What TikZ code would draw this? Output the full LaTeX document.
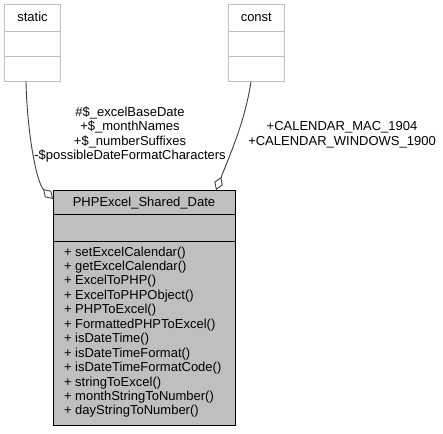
\documentclass[tikz,border=0pt]{standalone}
\usepackage{fontspec}
\setmainfont{Liberation Sans}
\usetikzlibrary{arrows.meta}
\definecolor{boxgray}{HTML}{BFBFBF}
\definecolor{linegray}{HTML}{404040}
\tikzset{
  lightbox/.style={draw=boxgray, fill=white, line width=1pt, inner sep=0pt, outer sep=0pt, minimum width=56pt},
  mainbox/.style={draw=black, fill=boxgray, line width=1pt, inner sep=0pt, outer sep=0pt, minimum width=182pt},
  txt/.style={font=\fontsize{13}{14.45}\selectfont, inner sep=0pt, outer sep=0pt, anchor=base},
  mtxt/.style={txt, anchor=base west},
  conn/.style={draw=linegray, line width=0.9pt, -{Diamond[open, length=14pt, width=9pt]}}
}
\begin{document}
\begin{tikzpicture}[x=1pt,y=-1pt]
\useasboundingbox (0,0) rectangle (443,433);
% static box
\node[lightbox, minimum height=26.7pt] (sthead) at (32.5,18.35) {};
\node[lightbox, minimum height=25pt] (stattr) at (32.5,44.2) {};
\node[lightbox, minimum height=25pt] (stops) at (32.5,69.2) {};
\node[txt] (stname) at (32.5,21.7) {static};
% const box
\node[lightbox, minimum height=26.7pt] (cohead) at (256.3,18.35) {};
\node[lightbox, minimum height=25pt] (coattr) at (256.3,44.2) {};
\node[lightbox, minimum height=25pt] (coops) at (256.3,69.2) {};
\node[txt] (coname) at (256.3,21.7) {const};
% main box
\node[mainbox, minimum height=24pt] (mhead) at (144,202) {};
\node[mainbox, minimum height=27pt] (mattr) at (144,227.5) {};
\node[mainbox, minimum height=184pt] (mops) at (144,333) {};
\node[txt] (mname) at (144,206) {PHPExcel\_Shared\_Date};
\foreach \t [count=\i from 0] in {setExcelCalendar(), getExcelCalendar(), ExcelToPHP(), ExcelToPHPObject(), PHPToExcel(), FormattedPHPToExcel(), isDateTime(), isDateTimeFormat(), isDateTimeFormatCode(), stringToExcel(), monthStringToNumber(), dayStringToNumber()}
  \node[mtxt] (m\i) at (64,256+14.45*\i) {+ \t};
% connectors
\coordinate (stout) at (26,81.7);
\coordinate (stin) at (53,199);
\coordinate (coout) at (251,81.7);
\coordinate (coin) at (216,190);
\draw[conn] (stout) .. controls (27,130) and (36,182) .. (stin);
\draw[conn] (coout) .. controls (245,120) and (232,150) .. (coin);
% labels
\node[txt] (l1) at (130,116.5) {\#\$\_excelBaseDate};
\node[txt] (l2) at (130,130.8) {+\$\_monthNames};
\node[txt] (l3) at (130,145.1) {+\$\_numberSuffixes};
\node[txt] (l4) at (130,159.4) {-\$possibleDateFormatCharacters};
\node[txt] (c1) at (342,130.8) {+CALENDAR\_MAC\_1904};
\node[txt] (c2) at (342,145.1) {+CALENDAR\_WINDOWS\_1900};
\end{tikzpicture}
\end{document}
